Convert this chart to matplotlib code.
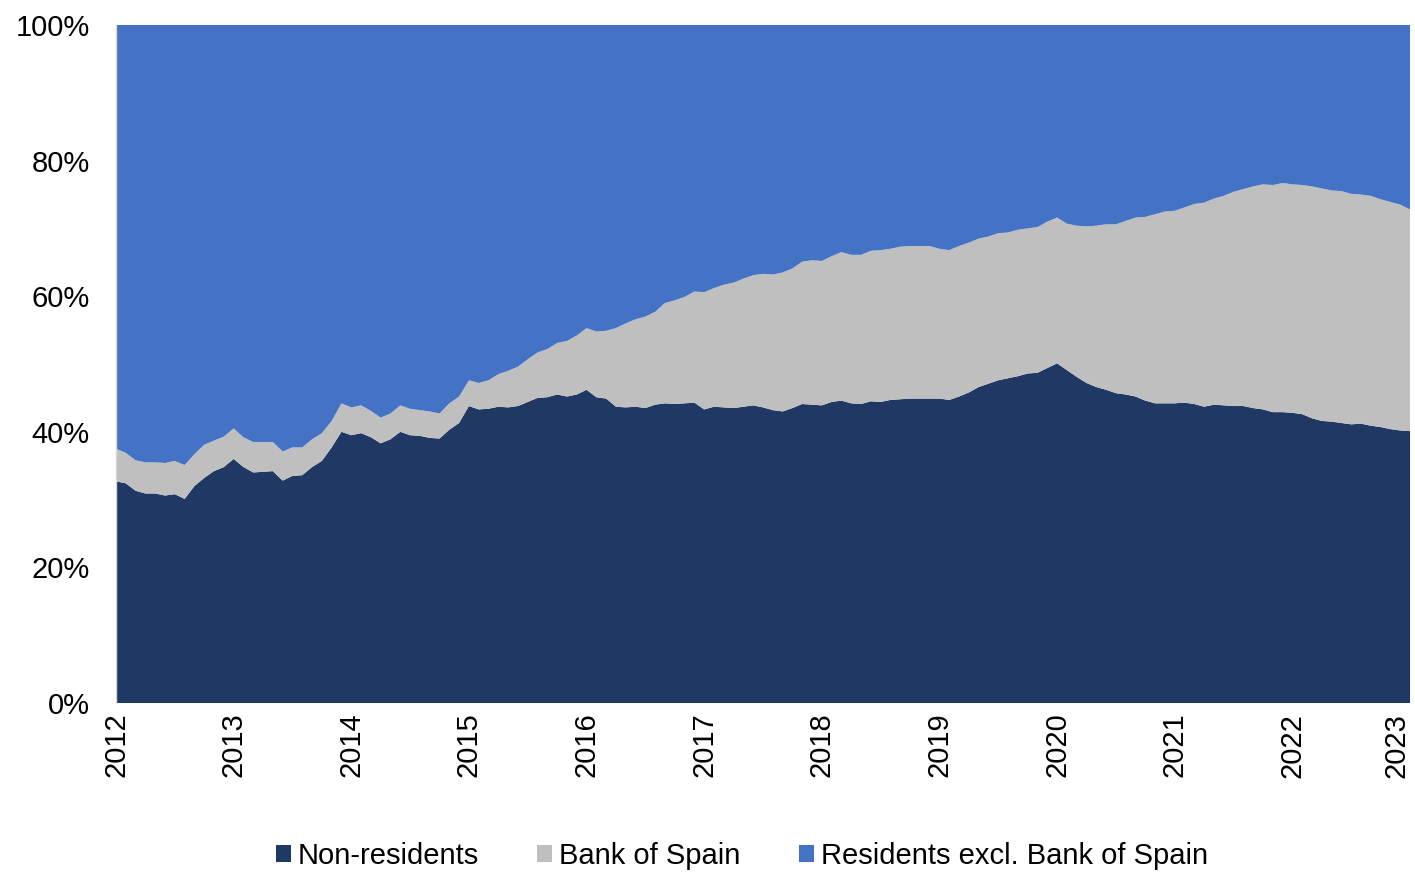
import matplotlib
matplotlib.use("Agg")
import matplotlib.pyplot as plt
import numpy as np

plt.rcParams['font.family'] = ['Liberation Sans', 'DejaVu Sans']

years = ["2012", "2013", "2014", "2015", "2016", "2017", "2018", "2019",
         "2020", "2021", "2022", "2023"]

non_residents = [
    32.7, 32.4, 31.3, 30.9, 30.9, 30.6, 30.8, 30.1, 32.0, 33.2, 34.2, 34.8,
    36.0, 34.8, 34.0, 34.1, 34.2, 32.8, 33.5, 33.6, 34.8, 35.7, 37.7, 40.0,
    39.5, 39.8, 39.2, 38.3, 38.9, 40.0, 39.5, 39.4, 39.1, 39.0, 40.3, 41.3,
    43.8, 43.3, 43.4, 43.7, 43.6, 43.8, 44.4, 45.0, 45.1, 45.5, 45.2, 45.5,
    46.2, 45.1, 44.9, 43.7, 43.6, 43.7, 43.5, 44.0, 44.2, 44.1, 44.2, 44.3,
    43.3, 43.7, 43.6, 43.5, 43.7, 43.9, 43.6, 43.2, 43.0, 43.5, 44.1, 44.0,
    43.9, 44.4, 44.6, 44.2, 44.1, 44.5, 44.4, 44.7, 44.8, 44.9, 44.9, 44.9,
    44.9, 44.7, 45.2, 45.8, 46.6, 47.1, 47.6, 47.9, 48.2, 48.6, 48.7, 49.4,
    50.1, 49.1, 48.1, 47.2, 46.6, 46.2, 45.7, 45.5, 45.2, 44.6, 44.2, 44.2,
    44.2, 44.3, 44.1, 43.7, 44.0, 43.9, 43.8, 43.8, 43.5, 43.3, 42.9, 42.9,
    42.8, 42.6, 42.0, 41.6, 41.5, 41.3, 41.1, 41.2, 40.9, 40.7, 40.4, 40.2,
    40.1,
]

bank_of_spain = [
    4.8, 4.5, 4.5, 4.6, 4.6, 4.8, 4.9, 5.0, 4.7, 4.9, 4.5, 4.5,
    4.5, 4.4, 4.5, 4.4, 4.3, 4.3, 4.2, 4.1, 4.1, 4.1, 3.9, 4.2,
    4.1, 4.1, 3.9, 3.8, 3.8, 3.9, 3.9, 3.8, 3.9, 3.7, 3.9, 3.9,
    3.8, 3.9, 4.2, 4.8, 5.4, 5.8, 6.3, 6.7, 7.1, 7.6, 8.2, 8.7,
    9.1, 9.7, 10.0, 11.6, 12.4, 12.9, 13.5, 13.7, 14.8, 15.3, 15.7, 16.4,
    17.3, 17.5, 18.1, 18.5, 18.9, 19.2, 19.7, 20.0, 20.5, 20.6, 21.0, 21.3,
    21.3, 21.5, 21.9, 21.9, 22.0, 22.2, 22.4, 22.3, 22.5, 22.5, 22.5, 22.5,
    22.1, 22.1, 22.2, 22.1, 21.9, 21.7, 21.7, 21.5, 21.6, 21.4, 21.5, 21.6,
    21.5, 21.6, 22.3, 23.1, 23.8, 24.4, 24.9, 25.6, 26.4, 27.1, 27.9, 28.3,
    28.4, 28.8, 29.5, 30.1, 30.4, 30.9, 31.6, 32.0, 32.7, 33.2, 33.5, 33.8,
    33.7, 33.8, 34.2, 34.3, 34.1, 34.2, 34.0, 33.8, 33.9, 33.6, 33.5, 33.3,
    32.7,
]

residents_excl_bos = [
    62.5, 63.1, 64.2, 64.5, 64.5, 64.6, 64.3, 64.9, 63.3, 61.9, 61.3, 60.7,
    59.5, 60.8, 61.5, 61.5, 61.5, 62.9, 62.3, 62.3, 61.1, 60.2, 58.4, 55.8,
    56.4, 56.1, 56.9, 57.9, 57.3, 56.1, 56.6, 56.8, 57.0, 57.3, 55.8, 54.8,
    52.4, 52.8, 52.4, 51.5, 51.0, 50.4, 49.3, 48.3, 47.8, 46.9, 46.6, 45.8,
    44.7, 45.2, 45.1, 44.7, 44.0, 43.4, 43.0, 42.3, 41.0, 40.6, 40.1, 39.3,
    39.4, 38.8, 38.3, 38.0, 37.4, 36.9, 36.7, 36.8, 36.5, 35.9, 34.9, 34.7,
    34.8, 34.1, 33.5, 33.9, 33.9, 33.3, 33.2, 33.0, 32.7, 32.6, 32.6, 32.6,
    33.0, 33.2, 32.6, 32.1, 31.5, 31.2, 30.7, 30.6, 30.2, 30.0, 29.8, 29.0,
    28.4, 29.3, 29.6, 29.7, 29.6, 29.4, 29.4, 28.9, 28.4, 28.3, 27.9, 27.5,
    27.4, 26.9, 26.4, 26.2, 25.6, 25.2, 24.6, 24.2, 23.8, 23.5, 23.6, 23.3,
    23.5, 23.6, 23.8, 24.1, 24.4, 24.5, 24.9, 25.0, 25.2, 25.7, 26.1, 26.5,
    27.2,
]

series_names = ["Non-residents", "Bank of Spain", "Residents excl. Bank of Spain"]
colors = ["#1F3864", "#BFBFBF", "#4472C4"]

y_ticks = [0, 20, 40, 60, 80, 100]
y_labels = ["0%", "20%", "40%", "60%", "80%", "100%"]

months = np.arange(len(non_residents))

fig = plt.figure(figsize=(14.15, 8.72), dpi=100)
ax = fig.add_axes([116/1415, 1 - 703/872, (1410 - 116)/1415, (703 - 25)/872])

ax.stackplot(months, non_residents, bank_of_spain, residents_excl_bos,
             colors=colors, labels=series_names, linewidth=0)

ax.set_xlim(0, len(non_residents) - 1)
ax.set_ylim(0, 100)
ax.set_xticks(np.arange(0, len(non_residents), 12))
ax.set_xticklabels(years, rotation=90, fontsize=21)
ax.get_xticklabels()[-1].set_horizontalalignment("right")
ax.set_yticks(y_ticks)
ax.set_yticklabels(y_labels, fontsize=21)
ax.tick_params(axis='both', length=0)
ax.tick_params(axis='y', pad=19)
ax.tick_params(axis='x', pad=7)

for s in ["top", "right", "bottom"]:
    ax.spines[s].set_visible(False)
ax.spines["left"].set_color("#D9D9D9")
ax.spines["left"].set_linewidth(1.0)

fig.legend(loc="center", bbox_to_anchor=(742/1415, 1 - 856/872), ncol=3,
           frameon=False, fontsize=21, handlelength=0.5, handleheight=0.5,
           handletextpad=0.25, columnspacing=2.0)

fig.savefig("out.png", dpi=100)
